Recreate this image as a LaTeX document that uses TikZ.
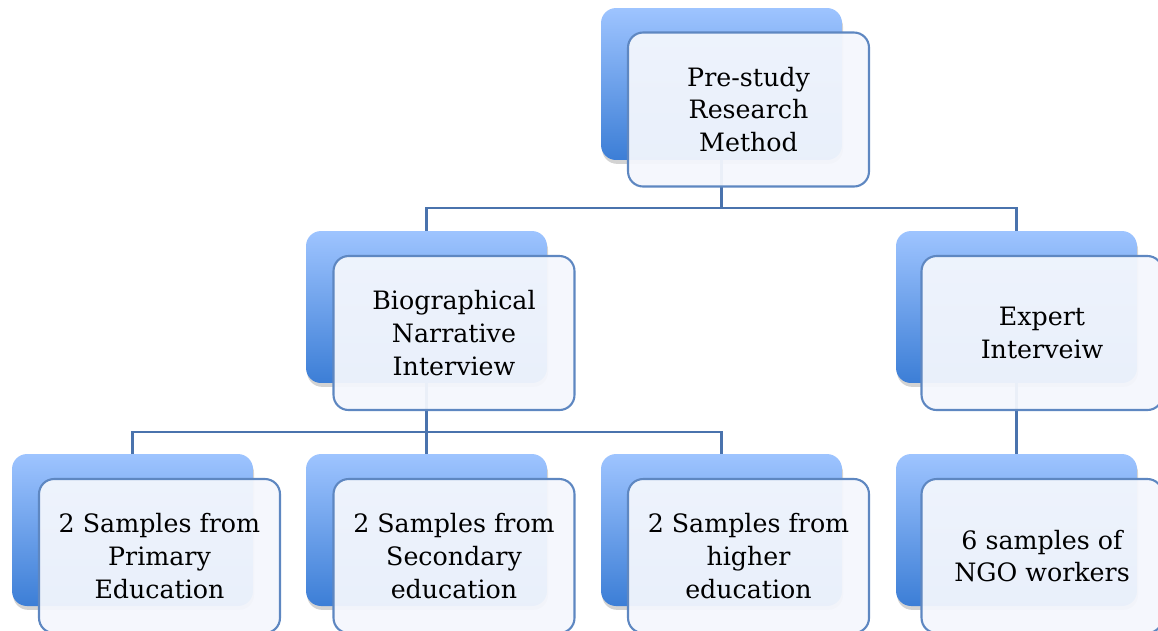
\documentclass[tikz,border=0pt]{standalone}
\usepackage{fontspec}
\setmainfont{DejaVu Serif}
\usepackage{tikz}
\usetikzlibrary{shadows, calc}

\definecolor{lineblue}{HTML}{4A73AD}
\definecolor{edgeblue}{HTML}{5E87C1}
\definecolor{backtop}{HTML}{9EC4FF}
\definecolor{backbot}{HTML}{3C7ED6}
\definecolor{frontfill}{HTML}{F4F7FD}

\begin{document}
\begin{tikzpicture}[x=0.02cm, y=-0.02cm,
    back/.style={rectangle, rounded corners=0.3cm, minimum width=4.82cm, minimum height=3.04cm,
      top color=backtop, bottom color=backbot, draw=none,
      drop shadow={shadow xshift=0.6pt, shadow yshift=-2.2pt, opacity=0.35}},
    front/.style={rectangle, rounded corners=0.3cm, minimum width=4.82cm, minimum height=3.08cm,
      draw=edgeblue, line width=1.2pt, fill=frontfill, fill opacity=0.94, text opacity=1,
      align=center, font=\fontsize{14.4}{18.7}\selectfont},
    conn/.style={draw=lineblue, line width=1.4pt}]
    \useasboundingbox (0,0) rectangle (1158,630);
    \clip (0,0) rectangle (1158,630);

    % Back boxes
    \node[back] (PSb) at (721.5, 84) {};
    \node[back] (BNb) at (426.5, 307) {};
    \node[back] (EIb) at (1016.5, 307) {};
    \node[back] (Pb) at (132.5, 530) {};
    \node[back] (Sb) at (426.5, 530) {};
    \node[back] (Hb) at (721.5, 530) {};
    \node[back] (Nb) at (1016.5, 530) {};

    % Junctions
    \coordinate (j1) at (721.5, 208);
    \coordinate (j2) at (426.5, 432);

    % Connectors
    \draw[conn] (PSb.south) -- (j1);
    \draw[conn] (BNb.north) |- (j1) -| (EIb.north);
    \draw[conn] (BNb.south) -- (j2);
    \draw[conn] (Pb.north) |- (j2) -| (Hb.north);
    \draw[conn] (j2) -- (Sb.north);
    \draw[conn] (EIb.south) -- (Nb.north);

    % Front boxes
    \node[front] (PS) at (748.5, 109.5) {Pre-study\\Research\\Method};
    \node[front] (BN) at (454, 333) {Biographical\\Narrative\\Interview};
    \node[front] (EI) at (1042, 333) {Expert\\Interveiw};
    \node[front] (P) at (159.5, 556) {2 Samples from\\Primary\\Education};
    \node[front] (S) at (454, 556) {2 Samples from\\Secondary\\education};
    \node[front] (H) at (748.5, 556) {2 Samples from\\higher\\education};
    \node[front] (N) at (1042, 556) {6 samples of\\NGO workers};
\end{tikzpicture}
\end{document}
